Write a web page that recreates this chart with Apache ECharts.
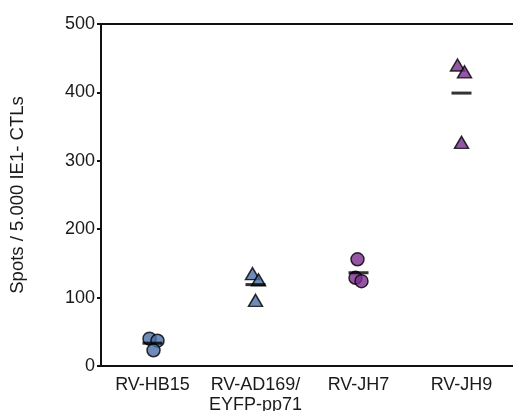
<!DOCTYPE html>
<html>
<head>
<meta charset="utf-8">
<script src="https://cdn.jsdelivr.net/npm/echarts@6/dist/echarts.min.js"></script>
<style>
  html, body { margin: 0; padding: 0; background: #fff; }
  #chart { width: 513px; height: 411px; }
</style>
</head>
<body>
<div id="chart"></div>
<script>
// Virus strains on the x axis
const categories = ['RV-HB15', 'RV-AD169/\nEYFP-pp71', 'RV-JH7', 'RV-JH9'];
// Spots per 5.000 IE1-specific CTLs, three replicates each
const hb15 = [40, 37, 23];
const ad169 = [135, 126, 96];
const jh7 = [156, 129, 124];
const jh9 = [440, 430, 327];
const yTicks = [0, 100, 200, 300, 400, 500];

// Small horizontal spread so overlapping replicates stay visible
const jitter = [[-3, 5, 1], [-3, 3, 0], [-1, -3, 3], [-4, 3, 0]];

const groups = [
  { values: hb15, symbol: 'circle', size: 13, color: '#4a6fa5' },
  { values: ad169, symbol: 'triangle', size: [14, 12], color: '#4a6fa5' },
  { values: jh7, symbol: 'circle', size: 13, color: '#7b2d8e' },
  { values: jh9, symbol: 'triangle', size: [14, 12], color: '#7b2d8e' }
];

const mean = arr => arr.reduce((a, b) => a + b, 0) / arr.length;

const series = groups.map((g, i) => ({
  type: 'scatter',
  symbol: g.symbol,
  symbolSize: g.size,
  itemStyle: { color: g.color, borderColor: '#000', borderWidth: 1.5 },
  data: g.values.map((v, k) => ({ value: [i, v], symbolOffset: [jitter[i][k], 0] })),
  z: 2
}));

// Mean bars drawn on top of the replicates
series.push({
  type: 'scatter',
  symbol: 'rect',
  symbolSize: [20, 3],
  itemStyle: { color: '#000' },
  data: groups.map((g, i) => [i, mean(g.values)]),
  z: 3
});

const font = 'Liberation Sans';
const chart = echarts.init(document.getElementById('chart'));
chart.setOption({
  animation: false,
  backgroundColor: '#fff',
  grid: { left: 101, right: 0, top: 24, bottom: 45, outerBoundsMode: 'none', containLabel: false },
  xAxis: [
    {
      type: 'category',
      data: categories,
      position: 'bottom',
      axisLine: { lineStyle: { color: '#111', width: 2 } },
      axisTick: { alignWithLabel: true, length: 4, lineStyle: { color: '#111', width: 2 } },
      axisLabel: { color: '#1a1a1a', fontSize: 18, fontFamily: font, margin: 9, lineHeight: 20, interval: 0 },
      splitLine: { show: false }
    },
    {
      type: 'category',
      data: categories,
      position: 'top',
      axisLine: { lineStyle: { color: '#111', width: 2 } },
      axisTick: { show: false },
      axisLabel: { show: false }
    }
  ],
  yAxis: {
    type: 'value',
    min: yTicks[0],
    max: yTicks[yTicks.length - 1],
    interval: yTicks[1] - yTicks[0],
    name: 'Spots / 5.000 IE1- CTLs',
    nameLocation: 'middle',
    nameGap: 74,
    nameTextStyle: { color: '#1a1a1a', fontSize: 18.5, fontFamily: font },
    axisLine: { show: true, lineStyle: { color: '#111', width: 2 } },
    axisTick: { show: true, length: 4, lineStyle: { color: '#111', width: 2 } },
    axisLabel: { color: '#1a1a1a', fontSize: 18, fontFamily: font, margin: 6 },
    splitLine: { show: false }
  },
  series: series
});
</script>
</body>
</html>
